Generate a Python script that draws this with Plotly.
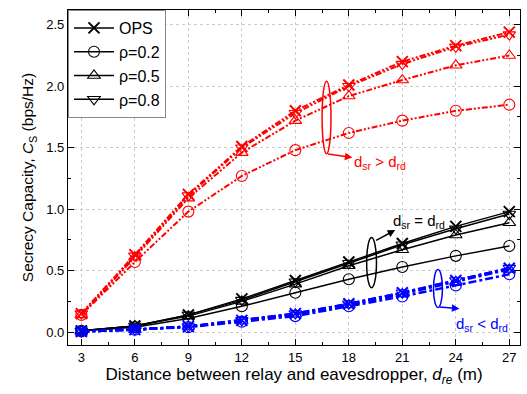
import plotly.graph_objects as go

x_dre = [3, 6, 9, 12, 15, 18, 21, 24, 27]

# d_sr > d_rd (red)
red_ops = [0.15, 0.63, 1.12, 1.51, 1.80, 2.01, 2.20, 2.33, 2.44]
red_p02 = [0.14, 0.57, 0.98, 1.27, 1.48, 1.62, 1.72, 1.80, 1.85]
red_p05 = [0.14, 0.61, 1.09, 1.46, 1.72, 1.92, 2.05, 2.17, 2.25]
red_p08 = [0.15, 0.62, 1.11, 1.50, 1.78, 2.00, 2.18, 2.32, 2.42]

# d_sr = d_rd (black)
blk_ops = [0.01, 0.05, 0.14, 0.27, 0.42, 0.57, 0.72, 0.86, 0.98]
blk_p02 = [0.01, 0.04, 0.11, 0.21, 0.32, 0.43, 0.53, 0.62, 0.70]
blk_p05 = [0.01, 0.05, 0.13, 0.25, 0.39, 0.54, 0.67, 0.79, 0.89]
blk_p08 = [0.01, 0.05, 0.14, 0.26, 0.41, 0.56, 0.71, 0.84, 0.96]

# d_sr < d_rd (blue)
blu_ops = [0.005, 0.02, 0.045, 0.095, 0.15, 0.23, 0.32, 0.42, 0.52]
blu_p02 = [0.005, 0.02, 0.04, 0.085, 0.13, 0.21, 0.29, 0.38, 0.47]
blu_p05 = [0.005, 0.02, 0.045, 0.09, 0.145, 0.22, 0.31, 0.41, 0.51]
blu_p08 = [0.005, 0.02, 0.045, 0.095, 0.15, 0.23, 0.32, 0.42, 0.52]

legend_names = ["OPS", "ρ=0.2", "ρ=0.5", "ρ=0.8"]
symbols = ["x-thin-open", "circle-open", "triangle-up-open", "triangle-down-open"]

fig = go.Figure()

groups = [
    ("red", [red_ops, red_p02, red_p05, red_p08], "6px,2px,2px,2px,2px,2px", 2),
    ("black", [blk_ops, blk_p02, blk_p05, blk_p08], "solid", 1.5),
    ("blue", [blu_ops, blu_p02, blu_p05, blu_p08], "8px,3px,3px,3px", 2.5),
]
for color, series, dash, lw in groups:
    for ys, sym in zip(series, symbols):
        fig.add_trace(go.Scatter(
            x=x_dre, y=ys, mode="lines+markers", showlegend=False,
            line=dict(color=color, width=lw, dash=dash),
            marker=dict(symbol=sym, size=11, color=color,
                        line=dict(color=color, width=2 if sym == "x-thin-open" else 1.1)),
        ))

for name, sym in zip(legend_names, symbols):
    fig.add_trace(go.Scatter(
        x=[None], y=[None], mode="lines+markers", name=name,
        line=dict(color="black", width=1.5),
        marker=dict(symbol=sym, size=11, color="black",
                    line=dict(color="black", width=2 if sym == "x-thin-open" else 1.1)),
    ))

# ellipses
fig.add_shape(type="circle", xref="x", yref="y", x0=16.5, x1=17.0, y0=1.45, y1=2.04,
              line=dict(color="red", width=1.5))
fig.add_shape(type="circle", xref="x", yref="y", x0=19.0, x1=19.55, y0=0.36, y1=0.77,
              line=dict(color="black", width=1.5))
fig.add_shape(type="circle", xref="x", yref="y", x0=22.75, x1=23.25, y0=0.20, y1=0.51,
              line=dict(color="blue", width=1.5))

# arrows
fig.add_annotation(x=18.2, y=1.42, ax=16.75, ay=1.45, xref="x", yref="y", axref="x", ayref="y",
                   text="", showarrow=True, arrowhead=2, arrowsize=1, arrowwidth=1.5, arrowcolor="red")
fig.add_annotation(x=20.6, y=0.83, ax=19.45, ay=0.74, xref="x", yref="y", axref="x", ayref="y",
                   text="", showarrow=True, arrowhead=2, arrowsize=1, arrowwidth=1.5, arrowcolor="black")
fig.add_annotation(x=24.2, y=0.19, ax=23.0, ay=0.205, xref="x", yref="y", axref="x", ayref="y",
                   text="", showarrow=True, arrowhead=2, arrowsize=1, arrowwidth=1.5, arrowcolor="blue")

# labels
fig.add_annotation(x=18.2, y=1.38, xref="x", yref="y", xanchor="left", yanchor="middle", showarrow=False,
                   text="d<sub>sr</sub> > d<sub>rd</sub>", font=dict(color="red", size=15))
fig.add_annotation(x=20.35, y=0.90, xref="x", yref="y", xanchor="left", yanchor="middle", showarrow=False,
                   text="d<sub>sr</sub> = d<sub>rd</sub>", font=dict(color="black", size=15))
fig.add_annotation(x=23.9, y=0.06, xref="x", yref="y", xanchor="left", yanchor="middle", showarrow=False,
                   text="d<sub>sr</sub> < d<sub>rd</sub>", font=dict(color="blue", size=15))

axis_common = dict(
    showline=True, linecolor="black", linewidth=1.2, mirror="ticks",
    ticks="inside", ticklen=6, tickcolor="black",
    showgrid=True, gridcolor="#cccccc", griddash="dot", gridwidth=1,
    zeroline=False, tickfont=dict(size=13, color="black"), automargin=False,
    minor=dict(ticks="inside", ticklen=3, tickcolor="black", showgrid=False),
)

fig.update_xaxes(range=[2.25, 27.6], tickvals=x_dre, minor_dtick=1.5,
                 title=dict(text="Distance between relay and eavesdropper, <i>d</i><sub><i>re</i></sub> (m)",
                            font=dict(size=17, color="black"), standoff=4),
                 **axis_common)
fig.update_yaxes(range=[-0.105, 2.62], dtick=0.5, tickformat=".1f", minor_dtick=0.25,
                 title=dict(text="Secrecy Capacity, <i>C</i><sub>S</sub> (bps/Hz)",
                            font=dict(size=15.5, color="black"), standoff=8),
                 **axis_common)

fig.update_layout(
    width=527, height=394,
    margin=dict(l=68, r=7, t=10, b=49),
    plot_bgcolor="white", paper_bgcolor="white",
    font=dict(family="Liberation Sans, Arial, sans-serif", color="black"),
    legend=dict(x=0, y=1, xanchor="left", yanchor="top", bgcolor="white",
                bordercolor="#888888", borderwidth=1, font=dict(size=16),
                itemwidth=40, tracegroupgap=0),
)

fig.write_html("out.html", config={"displayModeBar": False},
               post_script="document.body.style.margin='0';")
